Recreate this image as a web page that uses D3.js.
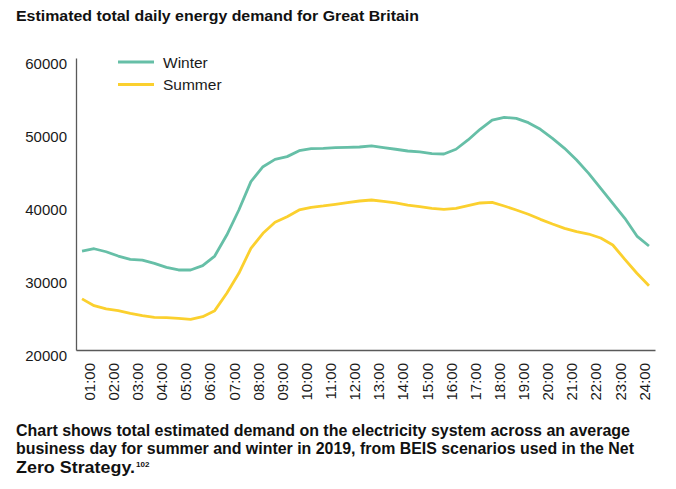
<!DOCTYPE html>
<html>
<head>
<meta charset="utf-8">
<script src="https://cdn.jsdelivr.net/npm/d3@7"></script>
<style>
  body { margin: 0; background: #fff; }
  svg { font-family: "Liberation Sans", Arial, sans-serif; }
  .axis path { stroke: #595959; stroke-width: 1.3; }
  .axis text { font-size: 15px; fill: #1a1a1a; }
  .title, .caption { font-weight: bold; fill: #111; }
</style>
</head>
<body>
<div id="chart"></div>
<script>

// half-hourly periods, 00:30 .. 24:00
var times = [];
for (var h = 0; h < 24; h++) {
    var hh = (h < 10 ? "0" : "") + h;
    var hn = ((h + 1) < 10 ? "0" : "") + (h + 1);
    times.push(hh + ":30");
    times.push(hn + ":00");
}

var hourLabels = times.filter(function(t) { return t.slice(3) === "00"; });

var yTicks = [20000, 30000, 40000, 50000, 60000];

// MW
var winter = [
    33560, 33870, 33460, 32870, 32410, 32320, 31870, 31320, 30960, 30960,
    31550, 32870, 35750, 39180, 43060, 45110, 46120, 46490, 47310, 47590,
    47630, 47720, 47770, 47810, 47950, 47720, 47500, 47260, 47130, 46900,
    46850, 47500, 48770, 50230, 51500, 51870, 51730, 51140, 50230, 49000,
    47630, 46030, 44200, 42150, 40090, 38040, 35610, 34250
];

var summer = [
    27000, 26070, 25620, 25390, 25020, 24700, 24470, 24430, 24340, 24200,
    24570, 25390, 27770, 30510, 33930, 35990, 37490, 38260, 39180, 39550,
    39730, 39960, 40180, 40410, 40550, 40370, 40140, 39860, 39630, 39410,
    39270, 39410, 39770, 40140, 40230, 39730, 39180, 38590, 37900, 37260,
    36670, 36210, 35890, 35340, 34380, 32420, 30510, 28810
];

var series = [
    { name: "Winter", values: winter, color: "#66bfa7" },
    { name: "Summer", values: summer, color: "#fbd02e" }
];

var width = 676, height = 489;
var margin = { top: 58, right: 21, bottom: 139, left: 76 };

var svg = d3.select("#chart").append("svg")
    .attr("width", width)
    .attr("height", height);

var x = d3.scaleBand()
    .domain(times)
    .range([margin.left, width - margin.right])
    .padding(0);

var y = d3.scaleLinear()
    .domain([20000, 60000])
    .range([height - margin.bottom, margin.top]);

// title
svg.append("text")
    .attr("class", "title")
    .attr("x", 16)
    .attr("y", 21)
    .attr("font-size", 15.5)
    .attr("textLength", 403)
    .attr("lengthAdjust", "spacingAndGlyphs")
    .text("Estimated total daily energy demand for Great Britain");

// y axis
var yAxis = svg.append("g")
    .attr("class", "axis")
    .attr("transform", "translate(" + margin.left + ",0)")
    .call(d3.axisLeft(y).tickValues(yTicks).tickSize(0).tickSizeOuter(0).tickPadding(9)
        .tickFormat(d3.format("d")));
yAxis.selectAll("text").attr("dy", "0.68em").attr("font-size", 15.5);

// x axis
var xAxis = svg.append("g")
    .attr("class", "axis")
    .attr("transform", "translate(0," + (height - margin.bottom) + ")")
    .call(d3.axisBottom(x).tickValues(hourLabels).tickSize(0).tickSizeOuter(0));
xAxis.selectAll("text")
    .attr("transform", "rotate(-90)")
    .attr("text-anchor", "end")
    .attr("x", -13)
    .attr("y", 0)
    .attr("dy", "0.05em");

// lines
var line = d3.line()
    .x(function(d, i) { return x(times[i]) + x.bandwidth() / 2; })
    .y(function(d) { return y(d); });

svg.selectAll(".series")
    .data(series)
    .enter().append("path")
    .attr("class", "series")
    .attr("fill", "none")
    .attr("stroke", function(d) { return d.color; })
    .attr("stroke-width", 2.8)
    .attr("stroke-linejoin", "round")
    .attr("d", function(d) { return line(d.values); });

// legend
var legend = svg.selectAll(".legend")
    .data(series)
    .enter().append("g")
    .attr("class", "legend")
    .attr("transform", function(d, i) { return "translate(118," + (62 + i * 22.6) + ")"; });

legend.append("line")
    .attr("x1", 0).attr("x2", 36)
    .attr("stroke", function(d) { return d.color; })
    .attr("stroke-width", 3);

legend.append("text")
    .attr("x", 45)
    .attr("y", 5.5)
    .attr("font-size", 15.5)
    .attr("fill", "#1a1a1a")
    .text(function(d) { return d.name; });

// caption
var captionLines = [
    { text: "Chart shows total estimated demand on the electricity system across an average", len: 614 },
    { text: "business day for summer and winter in 2019, from BEIS scenarios used in the Net", len: 618 },
    { text: "Zero Strategy.", len: 119 }
];

svg.selectAll(".caption")
    .data(captionLines)
    .enter().append("text")
    .attr("class", "caption")
    .attr("x", 16)
    .attr("y", function(d, i) { return 435.5 + i * 18.7; })
    .attr("font-size", 16)
    .attr("textLength", function(d) { return d.len; })
    .attr("lengthAdjust", "spacingAndGlyphs")
    .text(function(d) { return d.text; });

svg.append("text")
    .attr("class", "caption")
    .attr("x", 136)
    .attr("y", 467)
    .attr("font-size", 8)
    .text("102");

</script>
</body>
</html>
